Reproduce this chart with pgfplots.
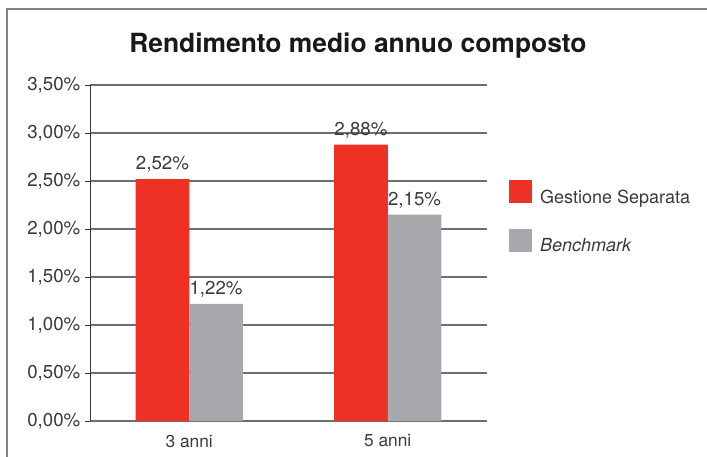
\documentclass[border=0pt]{standalone}
\usepackage{fontspec}
\setmainfont{TeX Gyre Heros}
\usepackage{pgfplots}
\pgfplotsset{compat=1.18}
\definecolor{gsred}{HTML}{EE3124}
\definecolor{bmgray}{HTML}{A7A8AB}
\definecolor{txt}{HTML}{3A3A3A}
\definecolor{gridc}{HTML}{6D6E71}
\begin{document}
\begin{tikzpicture}[x=0.75pt,y=0.75pt]
\useasboundingbox (0,0) rectangle (707,457);
\draw[color=gridc!85, line width=0.9pt] (7,-5) -- (7,448) -- (712,448);
\begin{axis}[
  at={(67.5pt,27pt)}, anchor=south west,
  scale only axis, width=297.75pt, height=252pt,
  ybar=0pt, bar width=0.27,
  xmin=-0.5, xmax=1.5, ymin=0, ymax=3.5,
  axis x line=bottom, axis y line=left,
  x axis line style={-, draw=gridc, line width=1.3pt},
  y axis line style={-, draw=txt, line width=0.6pt},
  tick align=outside,
  xtick={0,1}, xticklabels={3 anni,5 anni},
  major x tick style={draw=none},
  extra x ticks={-0.5,0.5,1.5}, extra x tick labels={},
  extra x tick style={grid=none, major tick length=4.5pt, tick style={draw=txt, line width=0.6pt}},
  ytick={0,0.5,...,3.5},
  ytick style={draw=txt, line width=0.6pt}, major tick length=3.75pt,
  ymajorgrids, grid style={draw=gridc, line width=0.8pt},
  /pgf/number format/assume math mode=true,
  yticklabel={\pgfmathprintnumber[fixed,fixed zerofill,precision=2,use comma]{\tick}\%},
  yticklabel style={font=\fontsize{14}{16}\selectfont, text=txt},
  xticklabel style={font=\fontsize{13}{15}\selectfont, text=txt, yshift=-3pt},
  nodes near coords={\pgfmathprintnumber[fixed,fixed zerofill,precision=2,use comma]{\pgfplotspointmeta}\%},
  nodes near coords style={font=\fontsize{14}{16}\selectfont, text=txt, yshift=1.5pt},
  title={Rendimento medio annuo composto},
  title style={font=\bfseries\fontsize{19.8}{22}\selectfont, at={(0.675,1.095)}, anchor=center, text=black!90},
  legend style={at={(1.055,0.603)}, anchor=west, draw=none, fill=none,
    font=\fontsize{13.5}{16}\selectfont, text=txt, row sep=16pt, column sep=4pt,
    inner sep=0pt, cells={anchor=west}},
]
\addplot[fill=gsred, draw=none,
  legend image code/.code={\fill[gsred] (0pt,-4.5pt) rectangle (17.25pt,12.75pt);}]
  coordinates {(0,2.52) (1,2.88)};
\addplot[fill=bmgray, draw=none,
  legend image code/.code={\fill[bmgray] (0pt,-4.5pt) rectangle (17.25pt,12.75pt);}]
  coordinates {(0,1.22) (1,2.15)};
\legend{Gestione Separata, \textit{Benchmark}}
\end{axis}
\end{tikzpicture}
\end{document}
